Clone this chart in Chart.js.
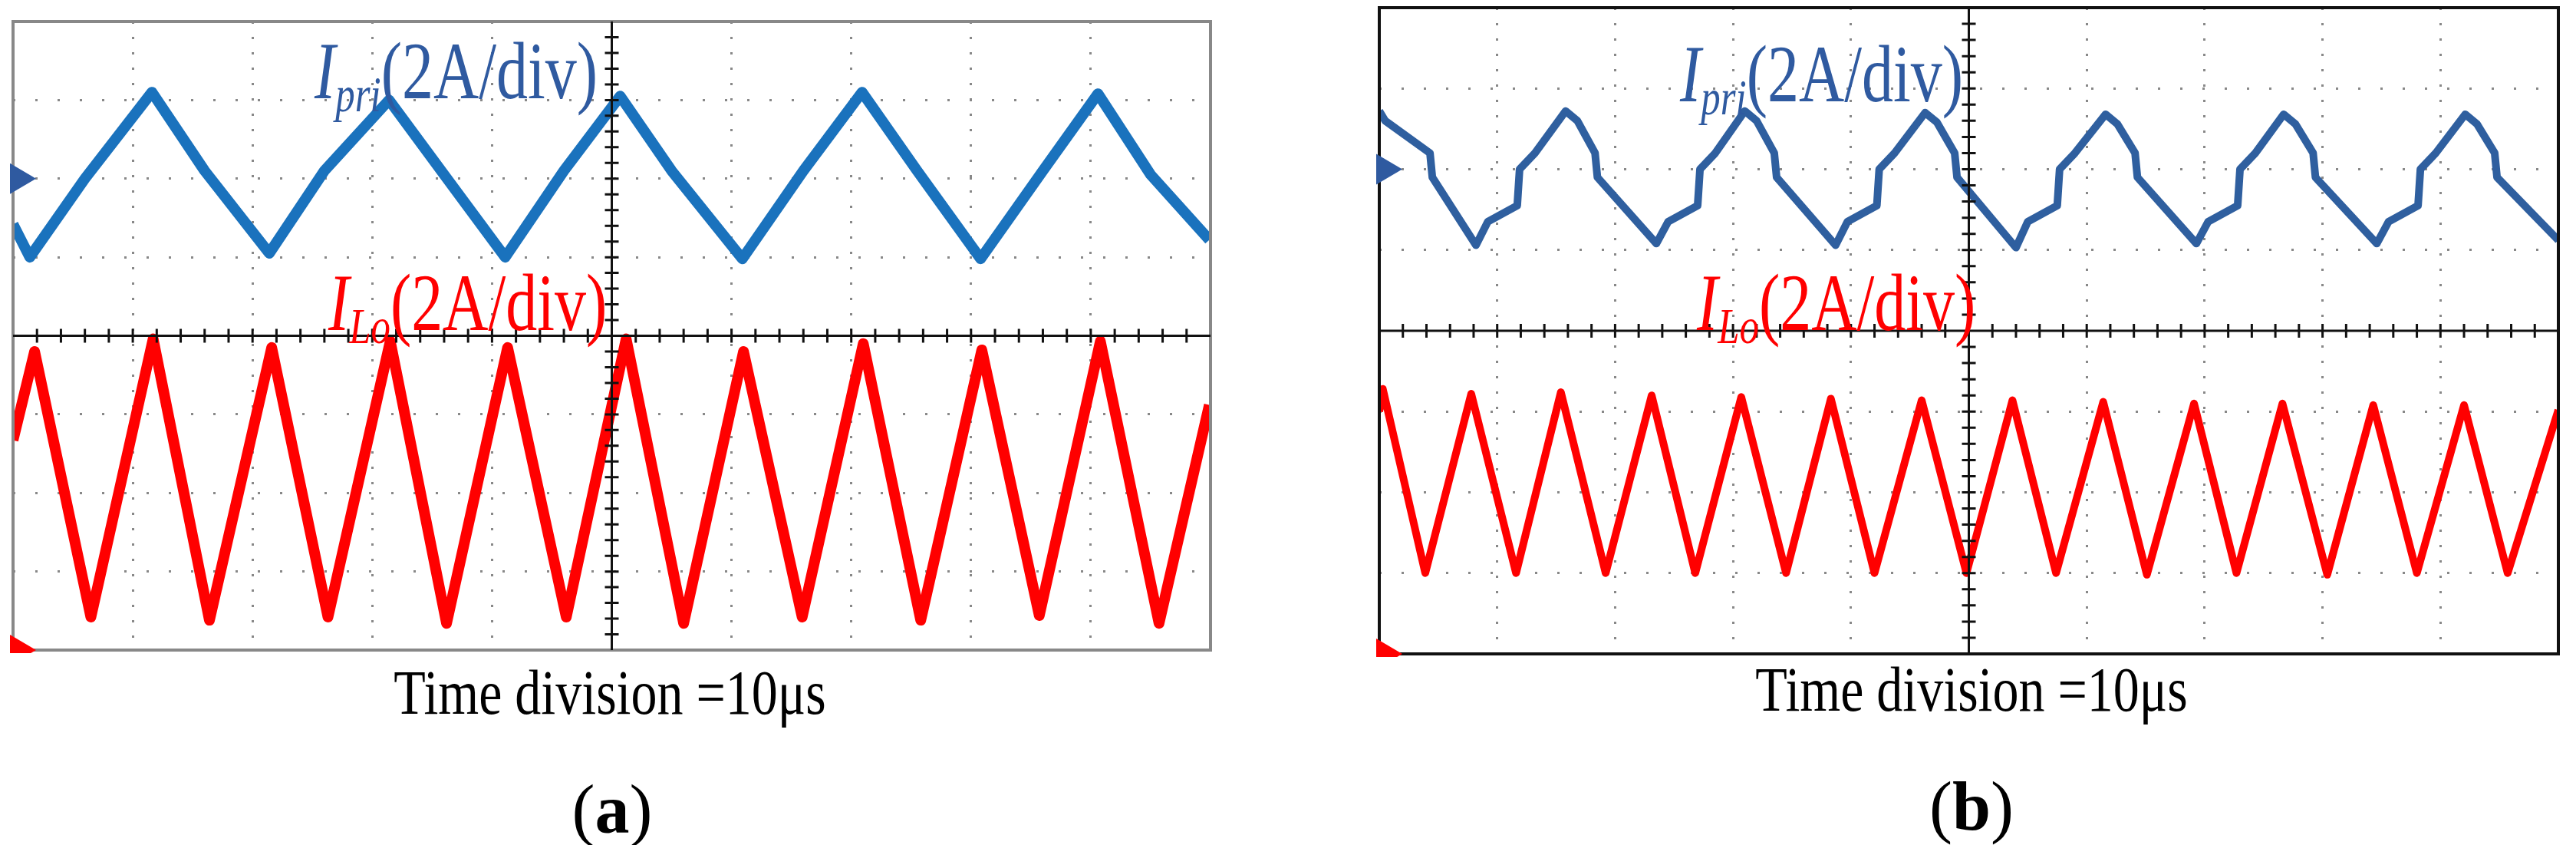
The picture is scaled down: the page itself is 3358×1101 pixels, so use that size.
<!DOCTYPE html>
<html>
<head>
<meta charset="utf-8">
<script src="https://cdn.jsdelivr.net/npm/chart.js@4"></script>
<style>
  body { margin: 0; background: #fff; width: 3358px; height: 1101px; position: relative; overflow: hidden; font-family: "Liberation Serif", "DejaVu Serif", serif; }
  .panel { position: absolute; }
  .lbl { position: absolute; font-size: 82px; white-space: nowrap; transform: scaleY(1.3); transform-origin: left top; line-height: 1; }
  .lbl i { font-style: italic; }
  .lbl sub { font-size: 0.62em; vertical-align: -0.25em; font-style: italic; }
  .cap { position: absolute; font-size: 68px; width: 900px; text-align: center; transform: scaleY(1.2); transform-origin: center top; line-height: 1; }
  .sub { position: absolute; font-size: 90px; width: 300px; text-align: center; line-height: 1; }
</style>
</head>
<body>
<div class="panel" style="left:13px;top:24px;width:1569px;height:827px"><canvas id="chartA"></canvas></div>
<div class="panel" style="left:1794px;top:6px;width:1545px;height:850px"><canvas id="chartB"></canvas></div>

<div class="lbl" style="left:410px;top:40px;color:#2f5aa0"><i>I</i><sub>pri</sub>(2A/div)</div>
<div class="lbl" style="left:428px;top:342px;color:#ff0000"><i>I</i><sub>Lo</sub>(2A/div)</div>
<div class="lbl" style="left:2190px;top:44px;color:#2f5aa0"><i>I</i><sub>pri</sub>(2A/div)</div>
<div class="lbl" style="left:2212px;top:342px;color:#ff0000"><i>I</i><sub>Lo</sub>(2A/div)</div>

<div class="cap" style="left:345px;top:862px">Time division =10μs</div>
<div class="cap" style="left:2120px;top:858px">Time division =10μs</div>
<div class="sub" style="left:648px;top:1010px">(<b>a</b>)</div>
<div class="sub" style="left:2420px;top:1006px">(<b>b</b>)</div>

<script>
// time in divisions (0..10), current in divisions (-4..4)
const priTimeA = [0, 0.14, 0.6, 1.16, 1.6, 2.14, 2.6, 3.14, 3.6, 4.11, 4.6, 5.07, 5.5, 6.09, 6.6, 7.09, 7.55, 8.08, 8.6, 9.06, 9.5, 9.99];
const priValA  = [1.42, 1.0, 2.0, 3.1, 2.1, 1.05, 2.1, 3.0, 2.05, 1.0, 2.1, 3.05, 2.1, 0.98, 2.1, 3.1, 2.1, 0.98, 2.1, 3.08, 2.05, 1.22];

const loTimeA = [0, 0.18, 0.65, 1.17, 1.64, 2.16, 2.63, 3.15, 3.62, 4.13, 4.62, 5.12, 5.6, 6.1, 6.59, 7.1, 7.58, 8.09, 8.57, 9.08, 9.57, 9.99];
const loValA  = [-1.33, -0.2, -3.58, -0.04, -3.62, -0.15, -3.58, -0.07, -3.66, -0.15, -3.58, -0.04, -3.66, -0.2, -3.58, -0.1, -3.62, -0.18, -3.56, -0.07, -3.66, -0.88];

const priTimeB = [0, 0.05, 0.43, 0.45, 0.82, 0.92, 1.17, 1.19, 1.32, 1.58, 1.68, 1.83, 1.85, 2.35, 2.45, 2.7, 2.72, 2.85, 3.1, 3.2, 3.35, 3.37, 3.87, 3.97, 4.22, 4.24, 4.37, 4.63, 4.73, 4.88, 4.9, 5.4, 5.5, 5.75, 5.77, 5.9, 6.16, 6.26, 6.41, 6.43, 6.93, 7.03, 7.28, 7.3, 7.43, 7.67, 7.77, 7.92, 7.94, 8.46, 8.56, 8.81, 8.83, 8.96, 9.21, 9.31, 9.46, 9.48, 10];
const priValB  = [2.72, 2.6, 2.2, 1.9, 1.06, 1.35, 1.55, 2.0, 2.2, 2.72, 2.6, 2.2, 1.9, 1.08, 1.35, 1.55, 2.0, 2.2, 2.72, 2.6, 2.2, 1.9, 1.06, 1.35, 1.55, 2.0, 2.2, 2.7, 2.58, 2.2, 1.9, 1.03, 1.35, 1.55, 2.0, 2.2, 2.68, 2.56, 2.2, 1.9, 1.08, 1.35, 1.55, 2.0, 2.2, 2.68, 2.56, 2.2, 1.9, 1.08, 1.35, 1.55, 2.0, 2.2, 2.68, 2.56, 2.2, 1.9, 1.12];

const loTimeB = [0, 0.03, 0.39, 0.78, 1.16, 1.54, 1.92, 2.31, 2.68, 3.07, 3.45, 3.83, 4.2, 4.6, 4.98, 5.37, 5.74, 6.14, 6.51, 6.91, 7.27, 7.66, 8.04, 8.43, 8.8, 9.2, 9.57, 10];
const loValB  = [-1.0, -0.72, -3.0, -0.78, -3.0, -0.76, -3.0, -0.8, -3.0, -0.82, -3.0, -0.84, -3.0, -0.86, -3.0, -0.86, -3.0, -0.88, -3.02, -0.9, -3.0, -0.9, -3.02, -0.92, -3.0, -0.92, -3.0, -0.98];

function pts(t, v) { return t.map((x, i) => ({ x: x, y: v[i] })); }

// frame, centre axes with minor ticks, trigger markers
const scopePlugin = {
  id: 'scope',
  afterDatasetsDraw(chart, args, opts) {
    const ctx = chart.ctx, a = chart.chartArea;
    const xs = chart.scales.x, ys = chart.scales.y;
    ctx.save();
    ctx.strokeStyle = opts.frame;
    ctx.lineWidth = 4;
    ctx.strokeRect(a.left, a.top, a.right - a.left, a.bottom - a.top);
    ctx.strokeStyle = '#111';
    ctx.lineWidth = 3;
    const cx = xs.getPixelForValue(5), cy = ys.getPixelForValue(0);
    ctx.beginPath();
    ctx.moveTo(cx, a.top); ctx.lineTo(cx, a.bottom);
    ctx.moveTo(a.left, cy); ctx.lineTo(a.right, cy);
    for (let k = 1; k < 50; k++) {
      const px = xs.getPixelForValue(k * 0.2);
      ctx.moveTo(px, cy - 9); ctx.lineTo(px, cy + 9);
    }
    for (let k = 1; k < 40; k++) {
      const py = ys.getPixelForValue(-4 + k * 0.2);
      ctx.moveTo(cx - 9, py); ctx.lineTo(cx + 9, py);
    }
    ctx.stroke();
    const tri = (y, col) => {
      const py = ys.getPixelForValue(y);
      ctx.fillStyle = col;
      ctx.beginPath();
      ctx.moveTo(a.left - 4, py - 20); ctx.lineTo(a.left + 30, py); ctx.lineTo(a.left - 4, py + 20);
      ctx.closePath(); ctx.fill();
    };
    tri(2, '#2f5aa0');
    tri(-4, '#ff0000');
    ctx.restore();
  }
};

function makeChart(id, priPts, loPts, blue, frame, lw) {
  new Chart(document.getElementById(id), {
    type: 'scatter',
    data: {
      datasets: [
        { data: priPts, showLine: true, borderColor: blue, borderWidth: lw, pointRadius: 0, tension: 0, borderJoinStyle: 'round' },
        { data: loPts, showLine: true, borderColor: '#ff0000', borderWidth: lw, pointRadius: 0, tension: 0, borderJoinStyle: 'round' }
      ]
    },
    options: {
      responsive: true,
      maintainAspectRatio: false,
      animation: false,
      layout: { padding: 4 },
      plugins: { legend: { display: false }, tooltip: { enabled: false }, scope: { frame: frame } },
      scales: {
        x: {
          type: 'linear', min: 0, max: 10,
          ticks: { display: false, stepSize: 1 },
          border: { display: false, dash: [3, 17] },
          grid: { drawTicks: false, lineWidth: 3, color: c => (c.tick.value % 10 === 0 || c.tick.value === 5) ? 'rgba(0,0,0,0)' : '#888' }
        },
        y: {
          type: 'linear', min: -4, max: 4,
          ticks: { display: false, stepSize: 1 },
          border: { display: false, dash: [3, 26] },
          grid: { drawTicks: false, lineWidth: 3, color: c => (Math.abs(c.tick.value) === 4 || c.tick.value === 0) ? 'rgba(0,0,0,0)' : '#888' }
        }
      }
    },
    plugins: [scopePlugin]
  });
}

makeChart('chartA', pts(priTimeA, priValA), pts(loTimeA, loValA), '#1a72bd', '#888', 14);
makeChart('chartB', pts(priTimeB, priValB), pts(loTimeB, loValB), '#2f5f9f', '#111', 10);
</script>
</body>
</html>
